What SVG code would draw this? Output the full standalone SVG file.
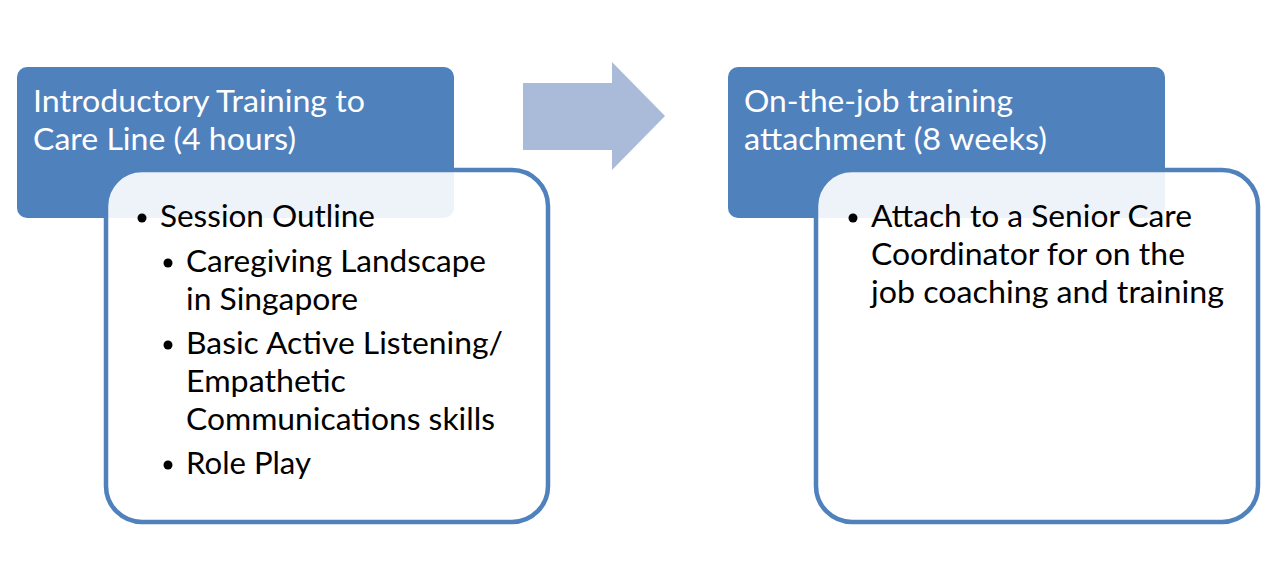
<svg xmlns="http://www.w3.org/2000/svg" width="1277" height="575" viewBox="0 0 1277 575">
<style>
.hdr{fill:#4F81BD;}
.box{fill:#FFFFFF;fill-opacity:0.9;stroke:#4F81BD;stroke-width:4.5;}
.ht{font-family:Lato,"Open Sans",sans-serif;font-size:30px;fill:#FFFFFF;}
.bt{font-family:Lato,"Open Sans",sans-serif;font-size:30px;fill:#000000;}
.dot{fill:#000000;}
.arrow{fill:#AABBD9;}
</style>
<rect width="1277" height="575" fill="#FFFFFF"/>
<g id="connectors">
<polygon class="arrow" points="523,83 612,83 612,62 665,116 612,170 612,150 523,150"/>
</g>
<g id="node-intro">
<rect class="hdr" x="17" y="67" width="437" height="151" rx="10"/>
<text class="ht" x="33" y="112" textLength="332" lengthAdjust="spacingAndGlyphs">Introductory Training to</text>
<text class="ht" x="33" y="150" textLength="263" lengthAdjust="spacingAndGlyphs">Care Line (4 hours)</text>
</g>
<g id="node-intro-details">
<rect class="box" x="106" y="170" width="442" height="352" rx="36"/>
<circle class="dot" cx="142" cy="218" r="4.5"/>
<text class="bt" x="160" y="227" textLength="215" lengthAdjust="spacingAndGlyphs">Session Outline</text>
<circle class="dot" cx="168" cy="263" r="4.5"/>
<text class="bt" x="186" y="272" textLength="300" lengthAdjust="spacingAndGlyphs">Caregiving Landscape</text>
<text class="bt" x="186" y="310" textLength="172" lengthAdjust="spacingAndGlyphs">in Singapore</text>
<circle class="dot" cx="168" cy="345" r="4.5"/>
<text class="bt" x="186" y="354" textLength="317" lengthAdjust="spacingAndGlyphs">Basic Active Listening/</text>
<text class="bt" x="186" y="392" textLength="160" lengthAdjust="spacingAndGlyphs">Empathetic</text>
<text class="bt" x="186" y="430" textLength="309" lengthAdjust="spacingAndGlyphs">Communications skills</text>
<circle class="dot" cx="168" cy="465" r="4.5"/>
<text class="bt" x="186" y="474" textLength="125" lengthAdjust="spacingAndGlyphs">Role Play</text>
</g>
<g id="node-ojt">
<rect class="hdr" x="728" y="67" width="437" height="151" rx="10"/>
<text class="ht" x="744" y="112" textLength="269" lengthAdjust="spacingAndGlyphs">On-the-job training</text>
<text class="ht" x="744" y="150" textLength="303" lengthAdjust="spacingAndGlyphs">attachment (8 weeks)</text>
</g>
<g id="node-ojt-details">
<rect class="box" x="816" y="170" width="442" height="352" rx="36"/>
<circle class="dot" cx="853" cy="218" r="4.5"/>
<text class="bt" x="871" y="227" textLength="321" lengthAdjust="spacingAndGlyphs">Attach to a Senior Care</text>
<text class="bt" x="871" y="265" textLength="314" lengthAdjust="spacingAndGlyphs">Coordinator for on the</text>
<text class="bt" x="871" y="303" textLength="353" lengthAdjust="spacingAndGlyphs">job coaching and training</text>
</g>
</svg>
